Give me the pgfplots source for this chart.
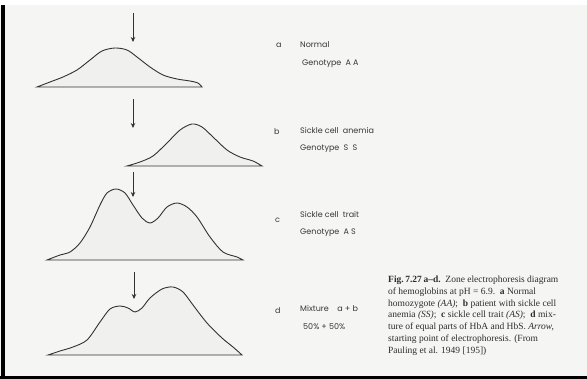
\documentclass[border=0pt]{standalone}
\usepackage{pgfplots}
\pgfplotsset{compat=1.18}
\usetikzlibrary{arrows.meta}
\usepackage{fontspec}
\setmainfont{Liberation Serif}
\newfontfamily\labfont{Poppins}
\definecolor{bg}{RGB}{245,245,243}
\definecolor{ink}{RGB}{50,50,50}
\definecolor{txt}{RGB}{55,55,55}
\definecolor{cap}{RGB}{45,45,45}
\definecolor{fillc}{RGB}{240,240,238}
\begin{document}
\begin{tikzpicture}
\begin{axis}[scale only axis, width=587pt, height=379pt,
  xmin=0, xmax=587, ymin=0, ymax=379, y dir=reverse,
  hide axis, clip=false]
% background and frame
\fill[white] (axis cs:0,0) rectangle (axis cs:587,379);
\fill[bg] (axis cs:0,5) rectangle (axis cs:587,376);
\fill[black] (axis cs:1,5) rectangle (axis cs:4.5,379);
\fill[black] (axis cs:0,375.7) rectangle (axis cs:587,379);
% curve a
\addplot[smooth, draw=ink, line width=0.9pt, fill=fillc] coordinates {
 (37,87) (50,82) (63,77) (77,70) (90,60) (102,51) (115,48) (127,50) (137,57)
 (150,67) (163,75) (177,79) (190,81) (198,83) (202,87)} -- cycle;
% curve b
\addplot[smooth, draw=ink, line width=0.9pt, fill=fillc] coordinates {
 (127,166) (140,162) (153,156) (167,143) (180,130) (192,124) (202,127)
 (213,137) (227,150) (240,157) (253,161) (262,166)} -- cycle;
% curve c
\addplot[smooth, draw=ink, line width=0.9pt, fill=fillc] coordinates {
 (47,260) (60,255) (70,252) (80,243) (90,227) (100,205) (107,193) (116,189)
 (125,193) (133,205) (142,218) (150,223) (158,218) (167,207) (177,203)
 (187,207) (197,217) (210,237) (223,252) (237,257) (243,260)} -- cycle;
% curve d
\addplot[smooth, draw=ink, line width=0.9pt, fill=fillc] coordinates {
 (48,355) (60,351) (73,347) (87,340) (100,322) (110,309) (120,306) (128,308)
 (135,312) (142,308) (150,298) (162,289) (173,287) (183,292) (193,305)
 (207,323) (222,338) (233,347) (242,355)} -- cycle;
% arrows (starting point)
\addplot[draw=ink, line width=0.8pt, -{Stealth[length=5pt,width=4.5pt]}] coordinates {(133,13) (133,42)};
\addplot[draw=ink, line width=0.8pt, -{Stealth[length=5pt,width=4.5pt]}] coordinates {(133,99) (133,128)};
\addplot[draw=ink, line width=0.8pt, -{Stealth[length=5pt,width=4.5pt]}] coordinates {(133,172) (133,197)};
\addplot[draw=ink, line width=0.8pt, -{Stealth[length=5pt,width=4.5pt]}] coordinates {(134,272) (134,299)};
% labels
\begin{scope}[every node/.style={text=txt, font=\labfont\fontsize{8}{9.5}\selectfont, inner sep=0pt, anchor=base west}]
\node at (axis cs:276,48) {a};
\node at (axis cs:300,48) {Normal};
\node at (axis cs:302,66) {Genotype\ \ A\ A};
\node at (axis cs:274,135) {b};
\node at (axis cs:300,134) {Sickle cell\ \ anemia};
\node at (axis cs:300,151) {Genotype\ \ S\ \ S};
\node at (axis cs:275,223) {c};
\node at (axis cs:300,218) {Sickle cell\ \ trait};
\node at (axis cs:300,235) {Genotype\ \ A\ S};
\node at (axis cs:275,314) {d};
\node at (axis cs:300,312) {Mixture\ \ \ \ a + b};
\node at (axis cs:303,330) {50\% + 50\%};
\end{scope}
% caption
\begin{scope}[every node/.style={text=cap, font=\fontsize{9.5}{11.8}\selectfont, inner sep=0pt, anchor=base west}]
\node at (axis cs:388,282.5) {\textbf{Fig.\,7.27\,a--d.}\ \ Zone electrophoresis diagram};
\node at (axis cs:388,294.3) {of hemoglobins at pH = 6.9.\ \ \textbf{a} Normal};
\node at (axis cs:388,306.1) {homozygote \textit{(AA)};\ \ \textbf{b} patient with sickle cell};
\node at (axis cs:388,317.9) {anemia \textit{(SS)};\ \ \textbf{c} sickle cell trait \textit{(AS)};\ \ \textbf{d} mix-};
\node at (axis cs:388,329.7) {ture of equal parts of HbA and HbS. \textit{Arrow,}};
\node at (axis cs:388,341.5) {starting point of electrophoresis. (From};
\node at (axis cs:388,353.3) {Pauling et al. 1949 [195])};
\end{scope}
\end{axis}
\end{tikzpicture}
\end{document}
